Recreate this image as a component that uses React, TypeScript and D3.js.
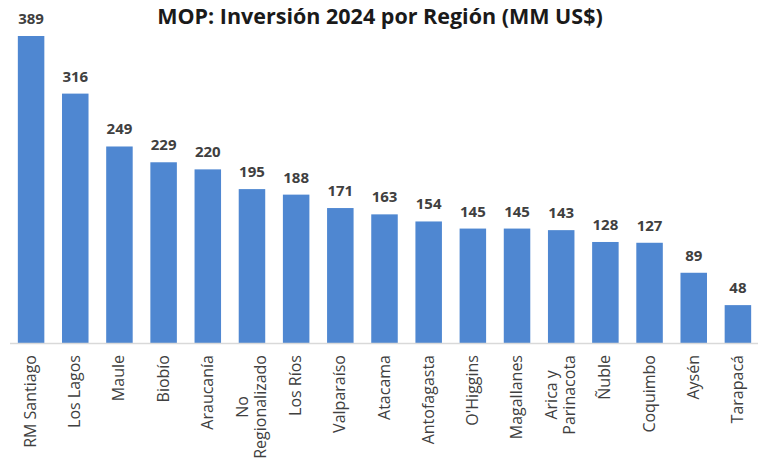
import React, { useLayoutEffect, useRef, useState } from "react";
import * as d3 from "d3";

const categories = [
  ["RM Santiago"], ["Los Lagos"], ["Maule"], ["Biobío"], ["Araucanía"],
  ["No", "Regionalizado"], ["Los Ríos"], ["Valparaíso"], ["Atacama"], ["Antofagasta"],
  ["O'Higgins"], ["Magallanes"], ["Arica y", "Parinacota"], ["Ñuble"], ["Coquimbo"],
  ["Aysén"], ["Tarapacá"],
];
const values = [389, 316, 249, 229, 220, 195, 188, 171, 163, 154, 145, 145, 143, 128, 127, 89, 48];
const title = "MOP: Inversión 2024 por Región (MM US$)";

const W = 758, H = 462;
const baseY = 343;
const labelTop = 355;
const font = "'Open Sans', sans-serif";

function CatLabel({ lines, cx }: { lines: string[]; cx: number }) {
  const ref = useRef<SVGTextElement>(null);
  const [len, setLen] = useState(0);
  const n = lines.length;
  const longest = lines.reduce((a, b) => (b.length > a.length ? b : a), "");
  useLayoutEffect(() => {
    if (ref.current) setLen(ref.current.getComputedTextLength());
  }, []);
  return (
    <g transform={`translate(${cx},${labelTop}) rotate(-90)`}>
      {lines.map((ln, j) => {
        const off = (j - (n - 1) / 2) * 18 + 5;
        const isLong = ln === longest;
        return (
          <text key={j} ref={isLong ? ref : undefined} x={isLong ? 0 : -len / 2} y={off}
            textAnchor={isLong ? "end" : "middle"} fontFamily={font} fontSize={16} fill="#404040">{ln}</text>
        );
      })}
    </g>
  );
}

export default function App() {
  const keys = categories.map((c) => c.join(" "));
  const x = d3.scaleBand().domain(keys).range([9, 760]).paddingInner(0.4).paddingOuter(0.2);
  const y = d3.scaleLinear().domain([0, 389]).range([baseY, 36]);
  return (
    <svg width={W} height={H} style={{ position: "absolute", left: 0, top: 0, background: "#fff" }}>
      <text x={380} y={24} textAnchor="middle" fontFamily={font} fontWeight="bold" fontSize={21.5} fill="#1a1a1a">{title}</text>
      {values.map((v, i) => {
        const k = keys[i];
        const bx = x(k)!;
        return (
          <g key={k}>
            <rect x={bx} y={y(v)} width={x.bandwidth()} height={baseY - y(v)} fill="#4f87d1" />
            <text x={bx + x.bandwidth() / 2} y={y(v) - 12} textAnchor="middle" fontFamily={font} fontWeight="bold" fontSize={15} fill="#404040">{v}</text>
          </g>
        );
      })}
      <line x1={10} x2={758} y1={baseY + 0.5} y2={baseY + 0.5} stroke="#d9d9d9" strokeWidth={1.5} />
      {categories.map((lines, i) => {
        const k = keys[i];
        return <CatLabel key={k} lines={lines} cx={x(k)! + x.bandwidth() / 2} />;
      })}
    </svg>
  );
}
